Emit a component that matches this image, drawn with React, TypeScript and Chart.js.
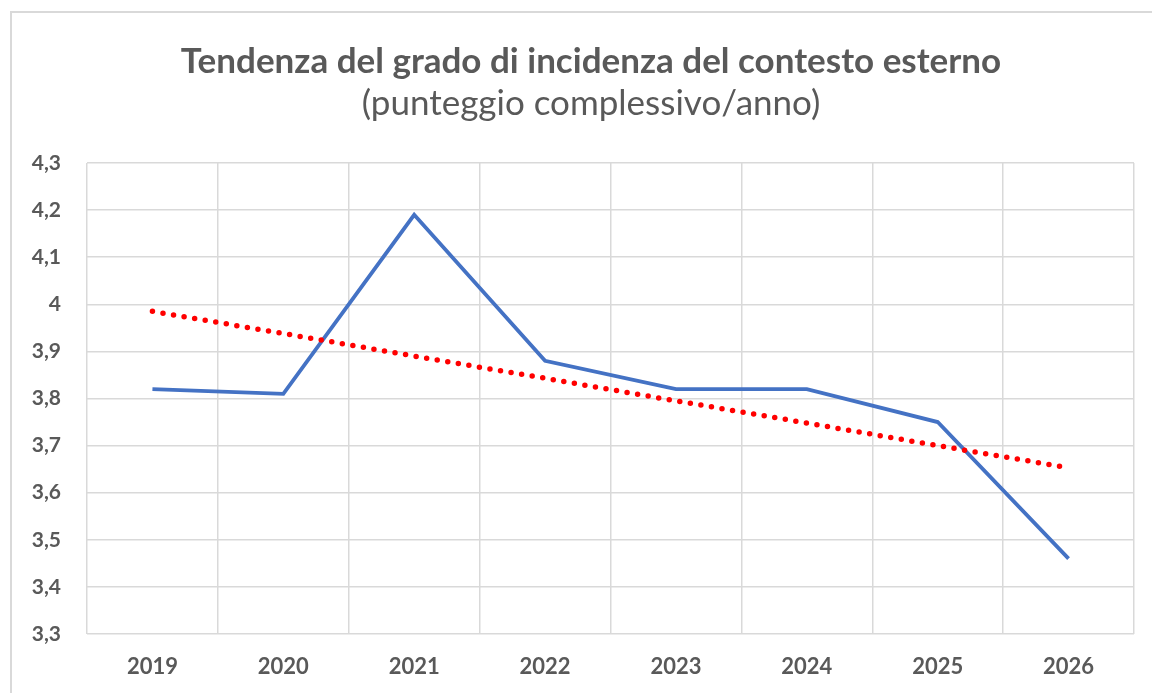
import React, { useEffect, useRef } from "react";
import { Chart, registerables } from "chart.js";

Chart.register(...registerables);

const TITLE = "Tendenza del grado di incidenza del contesto esterno";
const SUBTITLE = "(punteggio complessivo/anno)";

const years = ["2019", "2020", "2021", "2022", "2023", "2024", "2025", "2026"];
const scores = [3.82, 3.81, 4.19, 3.88, 3.82, 3.82, 3.75, 3.46];
const trendValues = [3.985, 3.938, 3.89, 3.843, 3.795, 3.748, 3.70, 3.653];

const Y_MIN = 3.3;
const Y_MAX = 4.3;
const Y_STEP = 0.1;

const GRAY_TEXT = "#595959";
const GRID = "#d9d9d9";

const titlePlugin = {
  id: "excelTitle",
  afterDraw(chart: any) {
    const ctx = chart.ctx;
    ctx.save();
    ctx.fillStyle = GRAY_TEXT;
    ctx.textAlign = "center";
    ctx.textBaseline = "alphabetic";
    ctx.font = "bold 35px Lato";
    ctx.fillText(TITLE, 579, 60);
    ctx.font = "35px Lato";
    ctx.fillText(SUBTITLE, 579, 102);
    ctx.restore();
  },
};

export default function App() {
  const ref = useRef<HTMLCanvasElement | null>(null);

  useEffect(() => {
    if (!ref.current) return;
    const chart = new Chart(ref.current, {
      type: "line",
      data: {
        labels: years,
        datasets: [
          {
            label: "Punteggio",
            data: scores,
            borderColor: "#4472C4",
            backgroundColor: "#4472C4",
            borderWidth: 3.8,
            pointRadius: 0,
            tension: 0,
            order: 2,
          },
          {
            label: "Tendenza",
            data: trendValues,
            borderColor: "#FF0000",
            backgroundColor: "#FF0000",
            borderWidth: 5.5,
            borderDash: [0, 10.7],
            borderCapStyle: "round",
            pointRadius: 0,
            tension: 0,
            order: 1,
          },
        ],
      },
      options: {
        responsive: false,
        animation: false,
        devicePixelRatio: 1,
        layout: { padding: { top: 150, right: 36, bottom: 0, left: 0 } },
        plugins: {
          legend: { display: false },
          title: { display: false },
          tooltip: { enabled: false },
        },
        scales: {
          x: {
            type: "category",
            offset: true,
            grid: {
              offset: true,
              color: GRID,
              lineWidth: 1.5,
              drawTicks: false,
            },
            border: { display: false },
            ticks: {
              color: GRAY_TEXT,
              font: { family: "Lato", size: 22, weight: "bold" },
              padding: 20,
              maxRotation: 0,
            },
            afterFit(scale: any) {
              scale.height = 59;
            },
          },
          y: {
            min: Y_MIN,
            max: Y_MAX,
            grid: { color: GRID, lineWidth: 1.5, drawTicks: false },
            border: { display: false },
            ticks: {
              stepSize: Y_STEP,
              color: GRAY_TEXT,
              font: { family: "Lato", size: 21, weight: "bold" },
              padding: 26,
              callback: (v: any) =>
                String(Number(Number(v).toFixed(1))).replace(".", ","),
            },
            afterFit(scale: any) {
              scale.width = 75;
            },
          },
        },
      },
      plugins: [titlePlugin],
    } as any);
    return () => chart.destroy();
  }, []);

  return (
    <div
      style={{
        position: "fixed",
        inset: 0,
        overflow: "hidden",
        background: "#fff",
      }}
    >
      <div
        style={{
          position: "absolute",
          left: 10,
          top: 11,
          border: "2px solid #d9d9d9",
          width: 1158,
          height: 700,
        }}
      >
        <canvas ref={ref} width={1158} height={680} />
      </div>
    </div>
  );
}
